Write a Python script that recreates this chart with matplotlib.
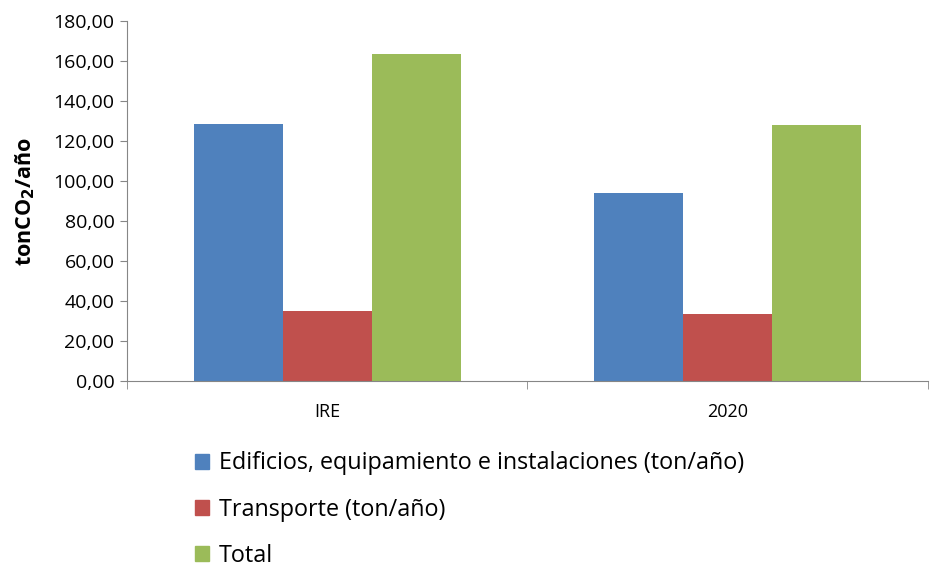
import numpy as np
import matplotlib
matplotlib.use("Agg")
import matplotlib.pyplot as plt
from matplotlib.ticker import FuncFormatter, FixedLocator
from matplotlib.patches import Patch

categories = ["IRE", "2020"]
series_names = [
    "Edificios, equipamiento e instalaciones (ton/año)",
    "Transporte (ton/año)",
    "Total",
]
edificios = [128.5, 94.0]
transporte = [35.0, 33.5]
total = [163.5, 128.0]
colors = ["#4F81BD", "#C0504D", "#9BBB59"]

plt.rcParams["font.family"] = ["Open Sans", "DejaVu Sans"]

fig = plt.figure(figsize=(9.37, 5.67), dpi=100)
ax = fig.add_axes([127 / 937, 1 - 381 / 567, 801 / 937, 360 / 567])

x = np.arange(len(categories))
w = 1 / 4.5
for i, (vals, c) in enumerate(zip([edificios, transporte, total], colors)):
    ax.bar(x + (i - 1) * w, vals, width=w, color=c, edgecolor="none")

ax.set_xlim(-0.5, 1.5)
ax.set_ylim(0, 180)
ax.set_yticks(np.arange(0, 181, 20))
ax.yaxis.set_major_formatter(FuncFormatter(lambda v, p: f"{v:.2f}".replace(".", ",")))
ax.set_xticks(x)
ax.set_xticklabels(categories)
ax.xaxis.set_minor_locator(FixedLocator([-0.5, 0.5, 1.5]))

for s in ["top", "right"]:
    ax.spines[s].set_visible(False)
for s in ["left", "bottom"]:
    ax.spines[s].set_color("#868686")
ax.tick_params(axis="y", length=5, color="#868686", labelsize=14, pad=4)
ax.tick_params(axis="x", which="major", length=0, labelsize=13, pad=16)
ax.tick_params(axis="x", which="minor", length=6, color="#868686")

ax.set_ylabel(r"tonCO$_\mathbf{2}$/año", fontsize=15.5, fontweight="bold")
ax.yaxis.set_label_coords(-0.112, 0.5)

handles = [Patch(color=c) for c in colors]
fig.legend(handles, series_names, loc="upper left",
           bbox_to_anchor=(186 / 937, 1 - 442 / 567), frameon=False,
           fontsize=16.8, handlelength=0.6, handleheight=0.6,
           labelspacing=0.95, handletextpad=0.4, borderaxespad=0)

fig.savefig("out.png", dpi=100)
